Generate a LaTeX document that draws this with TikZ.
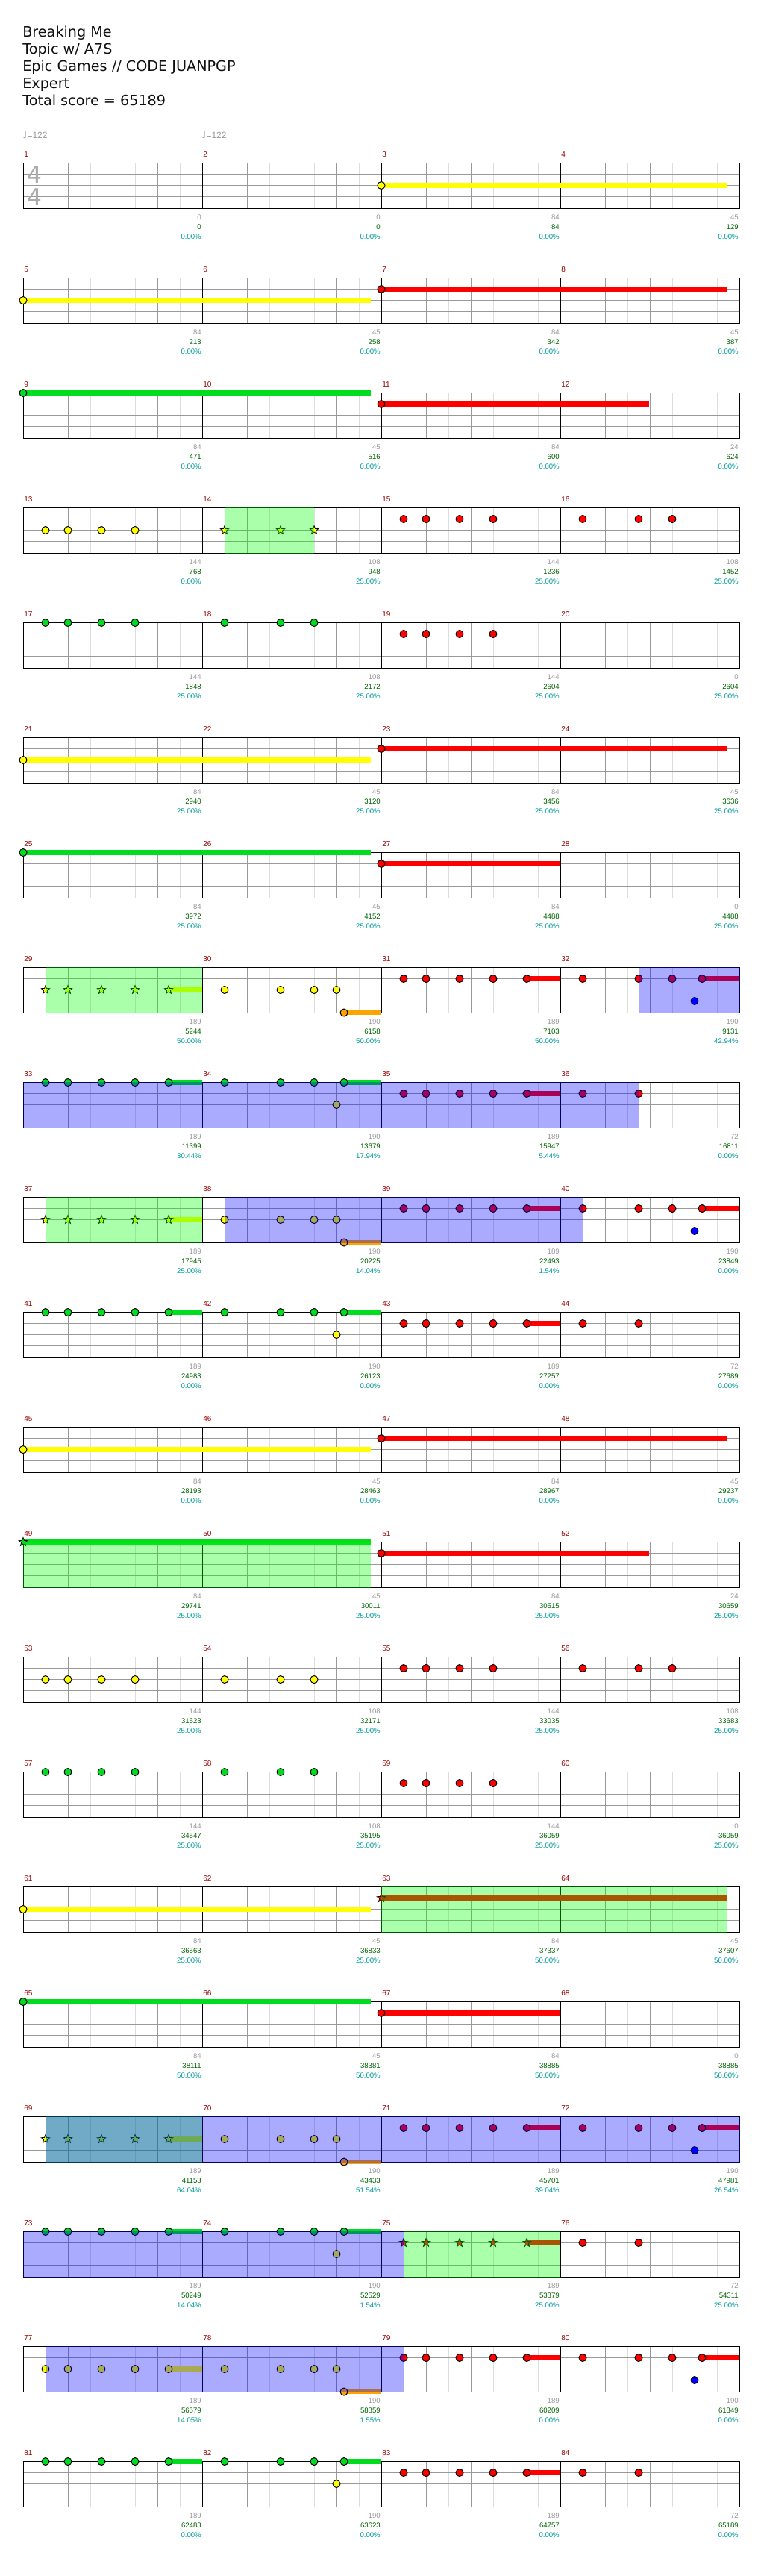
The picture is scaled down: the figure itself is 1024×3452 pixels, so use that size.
\documentclass[tikz,border=0pt]{standalone}
\usepackage{fontspec}
\setmainfont{DejaVu Sans}
\newfontfamily\labfont{Liberation Sans}
\newfontfamily\notefont{DejaVu Sans}
\usetikzlibrary{shapes.geometric}
\definecolor{colG}{RGB}{0,220,30}
\definecolor{colR}{RGB}{255,0,0}
\definecolor{colY}{RGB}{255,255,0}
\definecolor{colB}{RGB}{0,0,255}
\definecolor{colO}{RGB}{255,165,0}
\definecolor{numred}{RGB}{153,0,0}
\definecolor{labgray}{RGB}{153,153,153}
\definecolor{labgreen}{RGB}{0,100,0}
\definecolor{labteal}{RGB}{0,153,153}
\definecolor{griddark}{RGB}{153,153,153}
\definecolor{gridlight}{RGB}{221,221,221}
\definecolor{tsgray}{RGB}{170,170,170}
\definecolor{headcol}{RGB}{17,17,17}
\def\laneG{0}\def\laneR{15}\def\laneY{30}\def\laneB{45}\def\laneO{60.5}
\tikzset{
  note/.style={draw=black, line width=0.75pt},
  starnote/.style={star, star points=5, star point ratio=2.4, minimum size=9pt, inner sep=0pt, draw=black, line width=0.6pt},
  lightgrid/.style={draw=gridlight, line width=0.75pt},
  darkgrid/.style={draw=griddark, line width=0.75pt},
  blackline/.style={draw=black, line width=0.75pt},
  numlab/.style={font=\labfont\fontsize{7.5}{8}\selectfont, text=numred, inner sep=0pt, anchor=base west},
  glab/.style={font=\labfont\fontsize{7.2}{8}\selectfont, text=labgray, inner sep=0pt, anchor=base east},
  slab/.style={font=\labfont\fontsize{7.2}{8}\selectfont, text=labgreen, inner sep=0pt, anchor=base east},
  plab/.style={font=\labfont\fontsize{7.2}{8}\selectfont, text=labteal, inner sep=0pt, anchor=base east},
  head/.style={font=\fontsize{14.4}{17}\selectfont, text=headcol, inner sep=0pt, anchor=base west},
  tempo/.style={font=\labfont\fontsize{9}{10}\selectfont, text=labgray, inner sep=0pt, anchor=base west},
  tsig/.style={font=\fontsize{23.5}{24}\selectfont, text=tsgray, inner sep=0pt, anchor=base west},
  greenov/.style={fill=green, fill opacity=0.3333},
  blueov/.style={fill=blue, fill opacity=0.3333}
}
% note helpers: letter, row, measure-in-row, position (sixteenths)
\newcommand\nt[4]{\path[note, fill=col#1] ({31+240*#3+15*#4},{218.5+154*#2+\csname lane#1\endcsname}) circle[radius=5];}
\newcommand\st[4]{\node[starnote, fill=col#1] at ({31+240*#3+15*#4},{218.5+154*#2+\csname lane#1\endcsname}) {};}
\newcommand\su[5]{\fill[col#1] ({31+240*#3+15*#4},{218.5+154*#2+\csname lane#1\endcsname-3.4}) rectangle ({31+240*#3+15*#5},{218.5+154*#2+\csname lane#1\endcsname+3.4});}
\newcommand\pA[3]{\nt{#1}{#2}{#3}{2}\nt{#1}{#2}{#3}{4}\nt{#1}{#2}{#3}{7}\nt{#1}{#2}{#3}{10}}
\newcommand\pB[3]{\nt{#1}{#2}{#3}{2}\nt{#1}{#2}{#3}{7}\nt{#1}{#2}{#3}{10}}
\newcommand\pBs[3]{\st{#1}{#2}{#3}{2}\st{#1}{#2}{#3}{7}\st{#1}{#2}{#3}{10}}
\newcommand\pC[3]{\su{#1}{#2}{#3}{13}{16}\nt{#1}{#2}{#3}{2}\nt{#1}{#2}{#3}{4}\nt{#1}{#2}{#3}{7}\nt{#1}{#2}{#3}{10}\nt{#1}{#2}{#3}{13}}
\newcommand\pCs[3]{\su{#1}{#2}{#3}{13}{16}\st{#1}{#2}{#3}{2}\st{#1}{#2}{#3}{4}\st{#1}{#2}{#3}{7}\st{#1}{#2}{#3}{10}\st{#1}{#2}{#3}{13}}
\newcommand\pE[5]{\su{#3}{#4}{#5}{12.667}{16}\nt{#1}{#4}{#5}{2}\nt{#1}{#4}{#5}{7}\nt{#1}{#4}{#5}{10}\nt{#2}{#4}{#5}{12}\nt{#3}{#4}{#5}{12.667}}
\newcommand\pF[3]{\nt{#1}{#2}{#3}{2}\nt{#1}{#2}{#3}{7}}
% overlays: style, row, x from, x to (px)
\newcommand\ov[4]{\fill[#1] (#3,{218.5+154*#2-0.5}) rectangle (#4,{218.5+154*#2+61.5});}
% labels: measure, base score, total, percent
\newcommand\lab[4]{%
  \pgfmathtruncatemacro\rk{(#1-1)/4}%
  \pgfmathtruncatemacro\mm{#1-1-4*\rk}%
  \pgfmathsetmacro\xs{31+240*\mm}%
  \pgfmathsetmacro\xe{31+240*(\mm+1)-1}%
  \pgfmathsetmacro\ty{218.5+154*\rk}%
  \node[numlab] (mn#1) at ({\xs+1},{\ty-7.8}) {#1};
  \node[glab] (gs#1) at (\xe,{\ty+75.8}) {#2};
  \node[slab] (ts#1) at (\xe,{\ty+89.2}) {#3};
  \node[plab] (pc#1) at (\xe,{\ty+101.8}) {#4\%};
}
\begin{document}
\begin{tikzpicture}[x=0.75pt,y=-0.75pt]
\useasboundingbox (0,0) rectangle (1024,3452);
\fill[white] (0,0) rectangle (1024,3452);
% header
\node[head] (h1) at (30,49) {Breaking Me};
\node[head] (h2) at (30,72) {Topic w/ A7S};
\node[head] (h3) at (30,95) {Epic Games // CODE JUANPGP};
\node[head] (h4) at (30,118) {Expert};
\node[head] (h5) at (30,141) {Total score = 65189};
\node[tempo] (tp1) at (30,185.3) {{\notefont\fontsize{10}{10}\selectfont ♩}=122};
\node[tempo] (tp2) at (270,185.3) {{\notefont\fontsize{10}{10}\selectfont ♩}=122};
% grids
\foreach \k in {0,...,20}{
  \pgfmathsetmacro\T{218.5+154*\k}
  \fill[white] (31,\T) rectangle (991,{\T+61});
  \foreach \m in {0,...,3}{
    \foreach \j in {1,3,5,7}{
      \draw[lightgrid] ({31+240*\m+30*\j},\T) -- ({31+240*\m+30*\j},{\T+61});
    }
  }
  \foreach \yy in {15,30,45}{
    \draw[darkgrid] (31,{\T+\yy}) -- (991,{\T+\yy});
  }
  \foreach \m in {0,...,3}{
    \foreach \j in {2,4,6}{
      \draw[darkgrid] ({31+240*\m+30*\j},\T) -- ({31+240*\m+30*\j},{\T+61});
    }
  }
  \foreach \m in {1,2,3}{
    \draw[blackline] ({31+240*\m},\T) -- ({31+240*\m},{\T+61});
  }
  \draw[blackline] (31,\T) rectangle (991,{\T+61});
}
% time signature
\node[tsig] (ts1) at (36,245) {4};
\node[tsig] (ts2) at (36,275) {4};
% ---- notes ----
% row 0
\su{Y}{0}{2}{0}{30.93}\nt{Y}{0}{2}{0}
% row 1
\su{Y}{1}{0}{0}{31.07}\nt{Y}{1}{0}{0}
\su{R}{1}{2}{0}{30.93}\nt{R}{1}{2}{0}
% row 2
\su{G}{2}{0}{0}{31.07}\nt{G}{2}{0}{0}
\su{R}{2}{2}{0}{23.93}\nt{R}{2}{2}{0}
% row 3
\pA{Y}{3}{0}\pBs{Y}{3}{1}\pA{R}{3}{2}\pB{R}{3}{3}
% row 4
\pA{G}{4}{0}\pB{G}{4}{1}\pA{R}{4}{2}
% row 5
\su{Y}{5}{0}{0}{31.07}\nt{Y}{5}{0}{0}
\su{R}{5}{2}{0}{30.93}\nt{R}{5}{2}{0}
% row 6
\su{G}{6}{0}{0}{31.07}\nt{G}{6}{0}{0}
\su{R}{6}{2}{0}{16}\nt{R}{6}{2}{0}
% row 7
\pCs{Y}{7}{0}\pE{Y}{Y}{O}{7}{1}\pC{R}{7}{2}\pE{R}{B}{R}{7}{3}
% row 8
\pC{G}{8}{0}\pE{G}{Y}{G}{8}{1}\pC{R}{8}{2}\pF{R}{8}{3}
% row 9
\pCs{Y}{9}{0}\pE{Y}{Y}{O}{9}{1}\pC{R}{9}{2}\pE{R}{B}{R}{9}{3}
% row 10
\pC{G}{10}{0}\pE{G}{Y}{G}{10}{1}\pC{R}{10}{2}\pF{R}{10}{3}
% row 11
\su{Y}{11}{0}{0}{31.07}\nt{Y}{11}{0}{0}
\su{R}{11}{2}{0}{30.93}\nt{R}{11}{2}{0}
% row 12
\su{G}{12}{0}{0}{31.07}\st{G}{12}{0}{0}
\su{R}{12}{2}{0}{23.93}\nt{R}{12}{2}{0}
% row 13
\pA{Y}{13}{0}\pB{Y}{13}{1}\pA{R}{13}{2}\pB{R}{13}{3}
% row 14
\pA{G}{14}{0}\pB{G}{14}{1}\pA{R}{14}{2}
% row 15
\su{Y}{15}{0}{0}{31.07}\nt{Y}{15}{0}{0}
\su{R}{15}{2}{0}{30.93}\st{R}{15}{2}{0}
% row 16
\su{G}{16}{0}{0}{31.07}\nt{G}{16}{0}{0}
\su{R}{16}{2}{0}{16}\nt{R}{16}{2}{0}
% row 17
\pCs{Y}{17}{0}\pE{Y}{Y}{O}{17}{1}\pC{R}{17}{2}\pE{R}{B}{R}{17}{3}
% row 18
\pC{G}{18}{0}\pE{G}{Y}{G}{18}{1}\pCs{R}{18}{2}\pF{R}{18}{3}
% row 19
\pC{Y}{19}{0}\pE{Y}{Y}{O}{19}{1}\pC{R}{19}{2}\pE{R}{B}{R}{19}{3}
% row 20
\pC{G}{20}{0}\pE{G}{Y}{G}{20}{1}\pC{R}{20}{2}\pF{R}{20}{3}
% ---- overlays ----
\ov{greenov}{3}{301}{421}
\ov{greenov}{7}{61}{271}
\ov{greenov}{9}{61}{271}
\ov{greenov}{12}{31}{497}
\ov{greenov}{15}{511}{975}
\ov{greenov}{17}{61}{271}
\ov{greenov}{18}{541}{751}
\ov{blueov}{7}{856}{991.5}
\ov{blueov}{8}{30.5}{856}
\ov{blueov}{9}{301}{781}
\ov{blueov}{17}{61}{991.5}
\ov{blueov}{18}{30.5}{541}
\ov{blueov}{19}{61}{541}
% ---- labels ----
\lab{1}{0}{0}{0.00}
\lab{2}{0}{0}{0.00}
\lab{3}{84}{84}{0.00}
\lab{4}{45}{129}{0.00}
\lab{5}{84}{213}{0.00}
\lab{6}{45}{258}{0.00}
\lab{7}{84}{342}{0.00}
\lab{8}{45}{387}{0.00}
\lab{9}{84}{471}{0.00}
\lab{10}{45}{516}{0.00}
\lab{11}{84}{600}{0.00}
\lab{12}{24}{624}{0.00}
\lab{13}{144}{768}{0.00}
\lab{14}{108}{948}{25.00}
\lab{15}{144}{1236}{25.00}
\lab{16}{108}{1452}{25.00}
\lab{17}{144}{1848}{25.00}
\lab{18}{108}{2172}{25.00}
\lab{19}{144}{2604}{25.00}
\lab{20}{0}{2604}{25.00}
\lab{21}{84}{2940}{25.00}
\lab{22}{45}{3120}{25.00}
\lab{23}{84}{3456}{25.00}
\lab{24}{45}{3636}{25.00}
\lab{25}{84}{3972}{25.00}
\lab{26}{45}{4152}{25.00}
\lab{27}{84}{4488}{25.00}
\lab{28}{0}{4488}{25.00}
\lab{29}{189}{5244}{50.00}
\lab{30}{190}{6158}{50.00}
\lab{31}{189}{7103}{50.00}
\lab{32}{190}{9131}{42.94}
\lab{33}{189}{11399}{30.44}
\lab{34}{190}{13679}{17.94}
\lab{35}{189}{15947}{5.44}
\lab{36}{72}{16811}{0.00}
\lab{37}{189}{17945}{25.00}
\lab{38}{190}{20225}{14.04}
\lab{39}{189}{22493}{1.54}
\lab{40}{190}{23849}{0.00}
\lab{41}{189}{24983}{0.00}
\lab{42}{190}{26123}{0.00}
\lab{43}{189}{27257}{0.00}
\lab{44}{72}{27689}{0.00}
\lab{45}{84}{28193}{0.00}
\lab{46}{45}{28463}{0.00}
\lab{47}{84}{28967}{0.00}
\lab{48}{45}{29237}{0.00}
\lab{49}{84}{29741}{25.00}
\lab{50}{45}{30011}{25.00}
\lab{51}{84}{30515}{25.00}
\lab{52}{24}{30659}{25.00}
\lab{53}{144}{31523}{25.00}
\lab{54}{108}{32171}{25.00}
\lab{55}{144}{33035}{25.00}
\lab{56}{108}{33683}{25.00}
\lab{57}{144}{34547}{25.00}
\lab{58}{108}{35195}{25.00}
\lab{59}{144}{36059}{25.00}
\lab{60}{0}{36059}{25.00}
\lab{61}{84}{36563}{25.00}
\lab{62}{45}{36833}{25.00}
\lab{63}{84}{37337}{50.00}
\lab{64}{45}{37607}{50.00}
\lab{65}{84}{38111}{50.00}
\lab{66}{45}{38381}{50.00}
\lab{67}{84}{38885}{50.00}
\lab{68}{0}{38885}{50.00}
\lab{69}{189}{41153}{64.04}
\lab{70}{190}{43433}{51.54}
\lab{71}{189}{45701}{39.04}
\lab{72}{190}{47981}{26.54}
\lab{73}{189}{50249}{14.04}
\lab{74}{190}{52529}{1.54}
\lab{75}{189}{53879}{25.00}
\lab{76}{72}{54311}{25.00}
\lab{77}{189}{56579}{14.05}
\lab{78}{190}{58859}{1.55}
\lab{79}{189}{60209}{0.00}
\lab{80}{190}{61349}{0.00}
\lab{81}{189}{62483}{0.00}
\lab{82}{190}{63623}{0.00}
\lab{83}{189}{64757}{0.00}
\lab{84}{72}{65189}{0.00}
\end{tikzpicture}
\end{document}
